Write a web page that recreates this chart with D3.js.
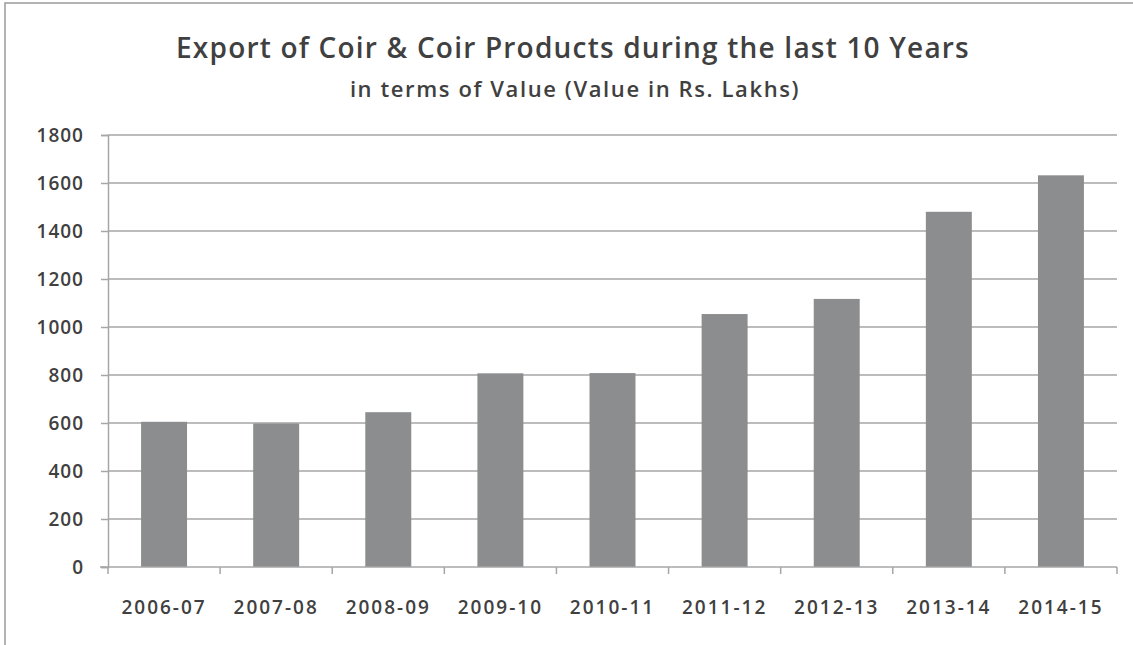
<!DOCTYPE html>
<html>
<head>
<meta charset="utf-8">
<script src="https://cdn.jsdelivr.net/npm/d3@7"></script>
<style>
  body { margin: 0; background: #fff; }
  text { font-family: "Open Sans", "Liberation Sans", sans-serif; fill: #404040; }
</style>
</head>
<body>
<div id="chart"></div>
<script>
// data
var years = ["2006-07", "2007-08", "2008-09", "2009-10", "2010-11", "2011-12", "2012-13", "2013-14", "2014-15"];
var values = [605, 598, 645, 807, 808, 1054, 1117, 1480, 1632];
var yTicks = [0, 200, 400, 600, 800, 1000, 1200, 1400, 1600, 1800];

var width = 1133,
    height = 645;
var margin = {top: 135, right: 16, bottom: 78, left: 108};

var svg = d3.select("#chart")
  .append("svg")
    .attr("width", width)
    .attr("height", height);

// outer frame (only top and left show in the picture)
svg.append("path")
    .attr("d", "M5,645 V3 H1133")
    .attr("fill", "none")
    .attr("stroke", "#9a9a9a")
    .attr("stroke-width", 1.5);

// titles
svg.append("text")
    .attr("x", 573).attr("y", 58)
    .attr("text-anchor", "middle")
    .style("font-size", "28px")
    .style("font-weight", 600)
    .style("letter-spacing", "1.2px")
    .text("Export of Coir & Coir Products during the last 10 Years");
svg.append("text")
    .attr("x", 575).attr("y", 97)
    .attr("text-anchor", "middle")
    .style("font-size", "22px")
    .style("font-weight", 600)
    .style("letter-spacing", "1.6px")
    .text("in terms of Value (Value in Rs. Lakhs)");

var x = d3.scaleBand()
    .domain(years)
    .range([margin.left, width - margin.right])
    .paddingInner(0.59)
    .paddingOuter(0.295);

var y = d3.scaleLinear()
    .domain([0, 1800])
    .range([height - margin.bottom, margin.top]);

// gridlines
svg.append("g")
  .selectAll("line")
  .data(yTicks.filter(function(d) { return d > 0; }))
  .enter()
  .append("line")
    .attr("x1", margin.left)
    .attr("x2", width - margin.right)
    .attr("y1", function(d) { return y(d); })
    .attr("y2", function(d) { return y(d); })
    .attr("stroke", "#a6a6a6")
    .attr("stroke-width", 1.5);

// bars
svg.append("g")
  .selectAll("rect")
  .data(values)
  .enter()
  .append("rect")
    .attr("x", function(d, i) { return x(years[i]); })
    .attr("width", x.bandwidth())
    .attr("y", function(d) { return y(d); })
    .attr("height", function(d) { return y(0) - y(d); })
    .attr("fill", "#8c8d8f");

// y axis
var yAxis = svg.append("g")
    .attr("transform", "translate(" + margin.left + ",0)")
    .call(d3.axisLeft(y).tickValues(yTicks).tickSize(7).tickPadding(17).tickFormat(d3.format("d")));
yAxis.selectAll("text")
    .style("font-size", "19px")
    .style("font-weight", 600)
    .style("letter-spacing", "1px");

// x axis, ticks sit on band boundaries
var xAxis = svg.append("g")
    .attr("transform", "translate(0," + y(0) + ")");
xAxis.append("line")
    .attr("x1", margin.left - 8).attr("x2", width - margin.right)
    .attr("stroke", "#a6a6a6").attr("stroke-width", 1.5);
var step = x.step();
xAxis.selectAll("line.tick")
  .data(d3.range(years.length + 1))
  .enter()
  .append("line")
    .attr("class", "tick")
    .attr("x1", function(i) { return margin.left + i * step; })
    .attr("x2", function(i) { return margin.left + i * step; })
    .attr("y2", 7)
    .attr("stroke", "#a6a6a6").attr("stroke-width", 1.5);
xAxis.selectAll("text")
  .data(years)
  .enter()
  .append("text")
    .attr("x", function(d) { return x(d) + x.bandwidth() / 2; })
    .attr("y", 47)
    .attr("text-anchor", "middle")
    .style("font-size", "19px")
    .style("font-weight", 600)
    .style("letter-spacing", "2px")
    .text(function(d) { return d; });

yAxis.select(".domain").attr("stroke", "#a6a6a6").attr("stroke-width", 1.5);
yAxis.selectAll(".tick line").attr("stroke", "#a6a6a6").attr("stroke-width", 1.5);
</script>
</body>
</html>
